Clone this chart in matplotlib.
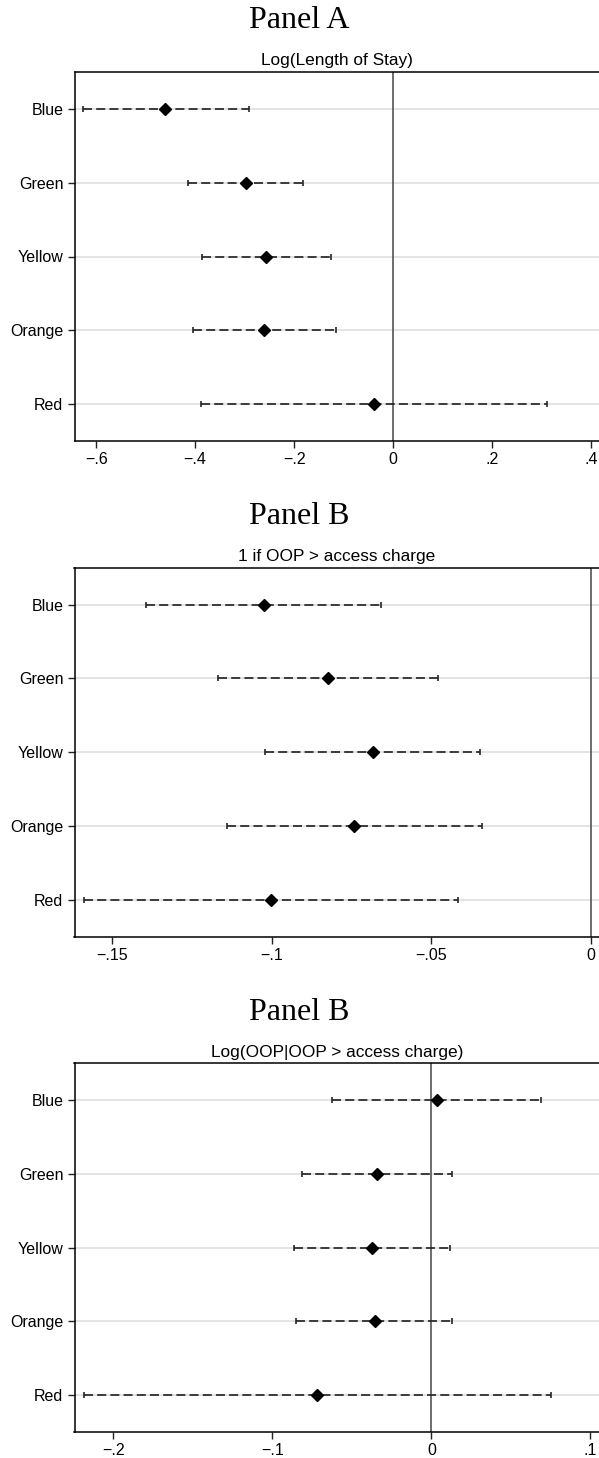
import numpy as np
import matplotlib.pyplot as plt

categories = ["Blue", "Green", "Yellow", "Orange", "Red"]

# Panel A: Log(Length of Stay)
los_coef = [-0.460, -0.298, -0.256, -0.260, -0.039]
los_lo = [-0.626, -0.415, -0.386, -0.404, -0.389]
los_hi = [-0.292, -0.182, -0.126, -0.115, 0.311]

# Panel B: 1 if OOP > access charge
oop_coef = [-0.1025, -0.0824, -0.0683, -0.0742, -0.1001]
oop_lo = [-0.1394, -0.1169, -0.1022, -0.1140, -0.1587]
oop_hi = [-0.0658, -0.0480, -0.0348, -0.0341, -0.0417]

# Panel C: Log(OOP | OOP > access charge)
loop_coef = [0.0034, -0.0341, -0.0375, -0.0356, -0.0719]
loop_lo = [-0.0623, -0.0812, -0.0863, -0.0849, -0.2185]
loop_hi = [0.0692, 0.0132, 0.0118, 0.0132, 0.0752]

panels = [
    ("Panel A", "Log(Length of Stay)", los_coef, los_lo, los_hi,
     (-0.644, 0.4166), [-0.6, -0.4, -0.2, 0, 0.2, 0.4]),
    ("Panel B", "1 if OOP > access charge", oop_coef, oop_lo, oop_hi,
     (-0.1617, 0.0025), [-0.15, -0.1, -0.05, 0]),
    ("Panel B", "Log(OOP|OOP > access charge)", loop_coef, loop_lo, loop_hi,
     (-0.2245, 0.1055), [-0.2, -0.1, 0, 0.1]),
]

W, H = 599, 1458
left_px = 74.5
ax_h = 369
tops = [72, 567.7, 1063]


def stata_fmt(v):
    if v == 0:
        return "0"
    s = ("%g" % abs(v)).lstrip("0")
    return ("\u2212" if v < 0 else "") + s


plt.rcParams["font.family"] = ["Liberation Sans", "DejaVu Sans"]

fig = plt.figure(figsize=(W / 100, H / 100), dpi=100)

for (title, sub, coef, lo, hi, xlim, xticks), top in zip(panels, tops):
    ax = fig.add_axes([left_px / W, 1 - (top + ax_h) / H, 1 - left_px / W, ax_h / H])
    y = np.arange(len(categories))[::-1] + 1

    for yy in y:
        ax.axhline(yy, color="#e4e4e4", lw=1.4, zorder=0)
    ax.axvline(0, color="#555555", lw=1.2, zorder=1)

    ax.hlines(y, lo, hi, colors="#262626", linestyles=(0, (5.2, 2.4)), lw=1.25, zorder=2)
    ax.plot(lo, y, ls="none", marker="|", ms=4.5, mew=1.2, color="#262626", zorder=2)
    ax.plot(hi, y, ls="none", marker="|", ms=4.5, mew=1.2, color="#262626", zorder=2)
    ax.plot(coef, y, ls="none", marker="D", ms=6, color="black", zorder=3)

    ax.set_xlim(*xlim)
    ax.set_ylim(0.5, len(categories) + 0.5)
    ax.set_yticks(y)
    ax.set_yticklabels(categories)
    ax.set_xticks(xticks)
    ax.set_xticklabels([stata_fmt(v) for v in xticks])
    ax.tick_params(axis="both", direction="out", length=5, width=1,
                   labelsize=11.5, colors="#222222", labelcolor="black", pad=3)
    ax.spines["right"].set_visible(False)
    for s in ("left", "top", "bottom"):
        ax.spines[s].set_linewidth(1.1)
        ax.spines[s].set_color("black")

    fig.text(0.5, 1 - (top - 51) / H, title, ha="center", va="center",
             fontsize=23, family=["Liberation Serif", "DejaVu Serif"])
    cx = (left_px + W) / 2 / W
    fig.text(cx, 1 - (top - 11) / H, sub, ha="center", va="center", fontsize=12.4)

fig.savefig("out.png", dpi=100)
